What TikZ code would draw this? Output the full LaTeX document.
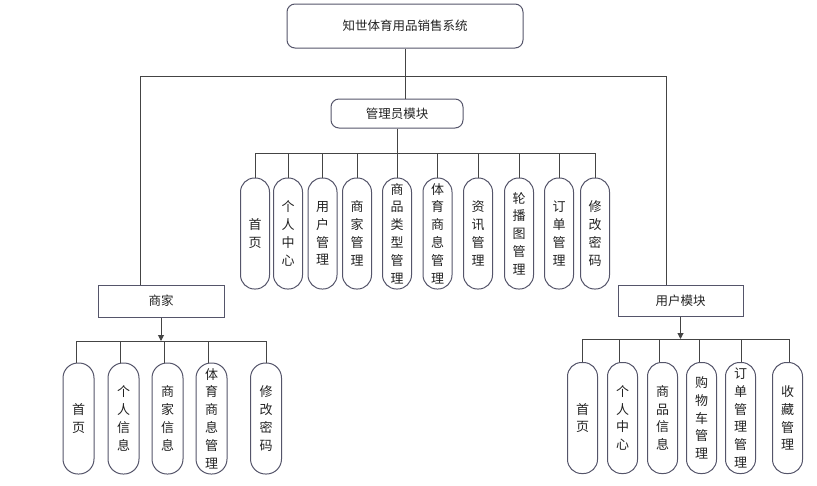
\documentclass[tikz,border=0pt]{standalone}
\usepackage{fontspec}
\setmainfont{Noto Sans CJK SC}
\usetikzlibrary{arrows.meta}
\definecolor{edgec}{HTML}{55556A}
\definecolor{wirec}{HTML}{444444}
\definecolor{inkc}{HTML}{222222}
\begin{document}
\begin{tikzpicture}[x=1pt,y=-1pt,
  box/.style={draw=edgec, line width=1pt, text=inkc, inner sep=0pt, font=\fontsize{12.5}{15}\selectfont},
  rbox/.style={box, rounded corners=8pt},
  pill/.style={draw=edgec, line width=1pt, rounded corners=14pt, minimum width=29pt, minimum height=111pt, inner sep=0pt, align=center, text=inkc, font=\fontsize{13}{17.8}\selectfont},
  wpill/.style={pill, minimum width=31pt, rounded corners=15pt},
  wire/.style={draw=wirec, line width=1pt},
  arr/.style={wire, -{Triangle[length=6pt,width=6pt]}}]
\useasboundingbox (0,0) rectangle (817,485);

% main boxes
\node[rbox, minimum width=236pt, minimum height=44pt] (top) at (405,26) {知世体育用品销售系统};
\node[rbox, minimum width=132pt, minimum height=29pt] (admin) at (397,113.5) {管理员模块};
\node[box, minimum width=126pt, minimum height=32pt] (merch) at (161,301) {商家};
\node[box, minimum width=125pt, minimum height=31pt] (user) at (680.5,300.5) {用户模块};

% admin pills
\node[pill] (a1) at (255,233.5) {首\\页};
\node[pill] (a2) at (288,233.5) {个\\人\\中\\心};
\node[pill] (a3) at (322.5,233.5) {用\\户\\管\\理};
\node[pill] (a4) at (357,233.5) {商\\家\\管\\理};
\node[pill] (a5) at (397,233.5) {商\\品\\类\\型\\管\\理};
\node[pill] (a6) at (437.5,233.5) {体\\育\\商\\息\\管\\理};
\node[pill] (a7) at (478,233.5) {资\\讯\\管\\理};
\node[pill] (a8) at (519,233.5) {轮\\播\\图\\管\\理};
\node[pill] (a9) at (559,233.5) {订\\单\\管\\理};
\node[pill] (a10) at (595,233.5) {修\\改\\密\\码};

% merchant pills
\node[wpill] (m1) at (78.5,418.5) {首\\页};
\node[wpill] (m2) at (123.5,418.5) {个\\人\\信\\息};
\node[wpill] (m3) at (167.5,418.5) {商\\家\\信\\息};
\node[wpill] (m4) at (211.5,418.5) {体\\育\\商\\息\\管\\理};
\node[wpill] (m5) at (266,418.5) {修\\改\\密\\码};

% user pills
\node[pill, minimum width=30pt] (u1) at (582.5,418) {首\\页};
\node[pill, minimum width=30pt] (u2) at (622.5,418) {个\\人\\中\\心};
\node[pill, minimum width=30pt] (u3) at (662.5,418) {商\\品\\信\\息};
\node[pill, minimum width=30pt] (u4) at (701.5,418) {购\\物\\车\\管\\理};
\node[pill, minimum width=30pt] (u5) at (740.5,418) {订\\单\\管\\理\\管\\理};
\node[pill, minimum width=30pt] (u6) at (787.5,418) {收\\藏\\管\\理};

% junction coordinates
\coordinate (mj) at (140,76);
\coordinate (uj) at (666,76);
\coordinate (abar) at (397,153);
\coordinate (mbar) at (161,341);
\coordinate (ubar) at (680,339);

% top level
\draw[wire] (top.south) -- (top.south |- admin.north);
\draw[wire] (merch.north -| mj) -- (mj) -- (uj) -- (user.north -| uj);

% admin branch
\draw[wire] (admin.south) -- (abar);
\draw[wire] (a1.north |- abar) -- (a10.north |- abar);
\foreach \i in {1,...,10} \draw[wire] (a\i.north) -- (a\i.north |- abar);

% merchant branch
\draw[arr] (merch.south) -- (merch.south |- mbar);
\foreach \n/\s in {m1/-2.5,m2/-3.5,m3/-3.5,m4/-3.5,m5/0} {
  \coordinate (\n-t) at ([xshift=\s pt]\n.north);
  \draw[wire] (\n-t) -- (\n-t |- mbar);
}
\draw[wire] (m1-t |- mbar) -- (m5-t |- mbar);

% user branch
\draw[arr] (user.south) -- (user.south |- ubar);
\foreach \n/\s in {u1/0,u2/-3.5,u3/-3.5,u4/-2.5,u5/0.5,u6/1.5} {
  \coordinate (\n-t) at ([xshift=\s pt]\n.north);
  \draw[wire] (\n-t) -- (\n-t |- ubar);
}
\draw[wire] (u1-t |- ubar) -- (u6-t |- ubar);
\end{tikzpicture}
\end{document}
